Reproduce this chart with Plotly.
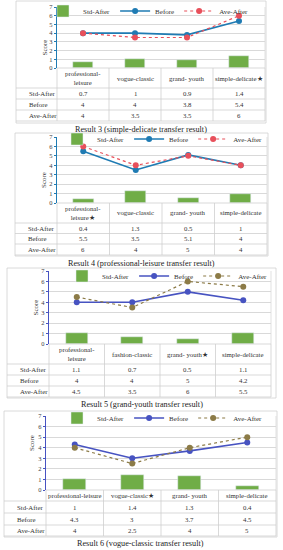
import plotly.graph_objects as go

W, H = 283, 550

series_names = ["Std-After", "Before", "Ave-After"]

cats_r3 = ["professional-leisure", "vogue-classic", "grand- youth", "simple-delicate★"]
std_r3 = [0.7, 1, 0.9, 1.4]
before_r3 = [4, 4, 3.8, 5.4]
ave_r3 = [4, 3.5, 3.5, 6]

cats_r4 = ["professional-leisure★", "vogue-classic", "grand- youth", "simple-delicate"]
std_r4 = [0.4, 1.3, 0.5, 1]
before_r4 = [5.5, 3.5, 5.1, 4]
ave_r4 = [6, 4, 5, 4]

cats_r5 = ["professional-leisure", "fashion-classic", "grand- youth★", "simple-delicate"]
std_r5 = [1.1, 0.7, 0.5, 1.1]
before_r5 = [4, 4, 5, 4.2]
ave_r5 = [4.5, 3.5, 6, 5.5]

cats_r6 = ["professional-leisure", "vogue-classic★", "grand- youth", "simple-delicate"]
std_r6 = [1, 1.4, 1.3, 0.4]
before_r6 = [4.3, 3, 3.7, 4.5]
ave_r6 = [4, 2.5, 4, 5]

captions = [
    "Result 3 (simple-delicate transfer result)",
    "Result 4 (professional-leisure transfer result)",
    "Result 5 (grand-youth transfer result)",
    "Result 6 (vogue-classic transfer result)",
]

FONT = "Liberation Serif"
GREEN = "#70ad47"
GRID = "#d9d9d9"
TBL = "#cfcfcf"

# layout in pixels
panels = [
    dict(cats=cats_r3, std=std_r3, before=before_r3, ave=ave_r3, frame=(16, 1, 266, 123),
         px0=57, px1=265, y7=7, y0=68, rows=[88, 99, 110, 121], ytitle=39, leg=(254, 11), cap=129,
         wrap=True, bc="#1f7bb3", ac="#e8505b", lab=27),
    dict(cats=cats_r4, std=std_r4, before=before_r4, ave=ave_r4, frame=(15, 133, 268, 256),
         px0=57, px1=267, y7=137, y0=203, rows=[223, 233.5, 244, 255], ytitle=38, leg=(268, 139), cap=263,
         wrap=True, bc="#1f7bb3", ac="#e8505b", lab=26),
    dict(cats=cats_r5, std=std_r5, before=before_r5, ave=ave_r5, frame=(7, 268, 276, 398),
         px0=49, px1=271, y7=271, y0=344, rows=[364, 375, 386, 397], ytitle=29, leg=(273, 276), cap=404,
         wrap=True, bc="#4753c1", ac="#8c7b47", lab=18),
    dict(cats=cats_r6, std=std_r6, before=before_r6, ave=ave_r6, frame=(4, 411, 277, 537),
         px0=46, px1=276, y7=416, y0=490, rows=[501, 513, 525, 536], ytitle=26, leg=(268, 418), cap=543,
         wrap=False, bc="#4753c1", ac="#8c7b47", lab=15),
]


def fx(x):
    return x / W


def fy(y):
    return 1 - y / H


fig = go.Figure()
shapes = []
annotations = []
layout = {}

for i, p in enumerate(panels, start=1):
    sx = "" if i == 1 else str(i)
    xa, ya = "x" + sx, "y" + sx
    leg = "legend" + sx
    idx = list(range(len(p["cats"])))

    fig.add_trace(go.Bar(x=idx, y=p["std"], name=series_names[0], marker_color=GREEN, width=0.4,
                         xaxis=xa, yaxis=ya, legend=leg))
    fig.add_trace(go.Scatter(x=idx, y=p["before"], name=series_names[1], mode="lines+markers",
                             line=dict(color=p["bc"], width=1.6), marker=dict(color=p["bc"], size=6),
                             xaxis=xa, yaxis=ya, legend=leg))
    fig.add_trace(go.Scatter(x=idx, y=p["ave"], name=series_names[2], mode="lines+markers",
                             line=dict(color=p["ac"], width=1.2, dash="dot"), marker=dict(color=p["ac"], size=6),
                             xaxis=xa, yaxis=ya, legend=leg))

    layout["xaxis" + sx] = dict(domain=[fx(p["px0"]), fx(p["px1"])], range=[-0.5, len(idx) - 0.5],
                                showticklabels=False, showgrid=False, zeroline=False, showline=False,
                                ticks="", anchor=ya, fixedrange=True)
    layout["yaxis" + sx] = dict(domain=[fy(p["y0"]), fy(p["y7"])], range=[0, 7], dtick=1,
                                showgrid=True, gridcolor=GRID, gridwidth=0.8, zeroline=False,
                                showline=True, linecolor=p["bc"], linewidth=1.2,
                                ticks="outside", ticklen=2, tickcolor=p["bc"],
                                tickfont=dict(family=FONT, size=6.5, color="#404040"),
                                anchor=xa, fixedrange=True)
    layout[leg] = dict(orientation="h", x=fx(p["leg"][0]), y=fy(p["leg"][1]), xanchor="right", yanchor="middle",
                       bgcolor="rgba(0,0,0,0)", font=dict(family=FONT, size=7, color="#333"),
                       itemwidth=30, tracegroupgap=0, traceorder="normal")

    fl, ft, fr, fb = p["frame"]
    # outer frame
    shapes.append(dict(type="rect", xref="paper", yref="paper", x0=fx(fl), x1=fx(fr), y0=fy(fb), y1=fy(ft),
                       line=dict(color="#d0d0d0", width=0.8), layer="below"))
    # right edge of plot
    shapes.append(dict(type="line", xref="paper", yref="paper", x0=fx(p["px1"]), x1=fx(p["px1"]),
                       y0=fy(p["y0"]), y1=fy(p["y7"]), line=dict(color=GRID, width=0.8)))
    # table horizontal lines
    shapes.append(dict(type="line", xref="paper", yref="paper", x0=fx(p["px0"]), x1=fx(p["px1"]),
                       y0=fy(p["y0"]), y1=fy(p["y0"]), line=dict(color=TBL, width=0.8)))
    for r in p["rows"]:
        shapes.append(dict(type="line", xref="paper", yref="paper", x0=fx(fl), x1=fx(p["px1"]),
                           y0=fy(r), y1=fy(r), line=dict(color=TBL, width=0.8)))
    # table vertical lines
    shapes.append(dict(type="line", xref="paper", yref="paper", x0=fx(p["px0"]), x1=fx(p["px0"]),
                       y0=fy(p["rows"][-1]), y1=fy(p["y0"]), line=dict(color=TBL, width=0.8)))
    shapes.append(dict(type="line", xref="paper", yref="paper", x0=fx(p["px1"]), x1=fx(p["px1"]),
                       y0=fy(p["rows"][-1]), y1=fy(p["y0"]), line=dict(color=TBL, width=0.8)))
    for k in idx[1:]:
        shapes.append(dict(type="line", xref=xa, yref="paper", x0=k - 0.5, x1=k - 0.5,
                           y0=fy(p["rows"][-1]), y1=fy(p["y0"]), line=dict(color=TBL, width=0.8)))

    # header labels
    hy = (p["y0"] + p["rows"][0]) / 2
    for k, c in zip(idx, p["cats"]):
        txt = c.replace("professional-", "professional-<br>") if p["wrap"] else c
        annotations.append(dict(x=k, y=fy(hy), xref=xa, yref="paper", text=txt, showarrow=False,
                                font=dict(family=FONT, size=6.8, color="#333"), yanchor="middle"))
    # body rows
    bounds = p["rows"]
    for r, (nm, vals) in enumerate(zip(series_names, [p["std"], p["before"], p["ave"]])):
        cy = (bounds[r] + bounds[r + 1]) / 2
        annotations.append(dict(x=fx(p["lab"]), y=fy(cy), xref="paper", yref="paper", text=nm,
                                showarrow=False, xanchor="left", yanchor="middle",
                                font=dict(family=FONT, size=6.8, color="#333")))
        for k, v in zip(idx, vals):
            annotations.append(dict(x=k, y=fy(cy), xref=xa, yref="paper", text=f"{v:g}", showarrow=False,
                                    yanchor="middle", font=dict(family=FONT, size=6.8, color="#333")))
    # y title
    annotations.append(dict(x=fx(p["ytitle"]), y=fy((p["y0"] + p["y7"]) / 2), xref="paper", yref="paper",
                            text="Score", textangle=-90, showarrow=False,
                            font=dict(family=FONT, size=7, color="#404040")))
    # caption
    annotations.append(dict(x=fx((fl + fr) / 2), y=fy(p["cap"]), xref="paper", yref="paper",
                            text=captions[i - 1], showarrow=False, yanchor="middle",
                            font=dict(family=FONT, size=8.2, color="#222")))

fig.update_layout(width=W, height=H, margin=dict(l=0, r=0, t=0, b=0, autoexpand=False), paper_bgcolor="white",
                  plot_bgcolor="white", showlegend=True, bargap=0, shapes=shapes,
                  annotations=annotations, **layout)

fig.write_html("out.html", config={"displayModeBar": False},
               post_script="document.body.style.margin='0px';document.body.style.padding='0px';")
